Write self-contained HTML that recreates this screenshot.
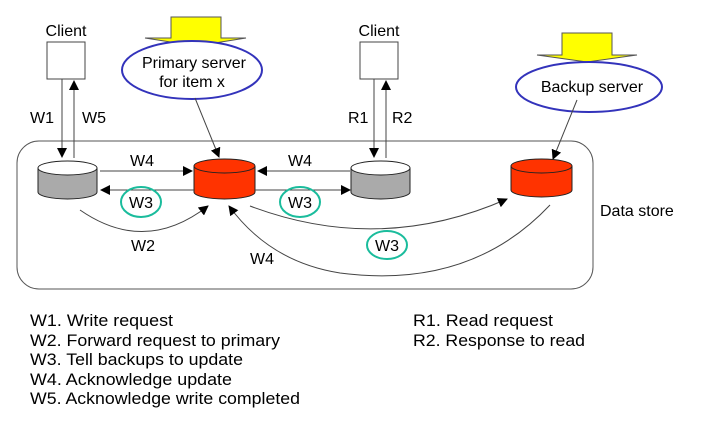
<!DOCTYPE html>
<html><head><meta charset="utf-8"><style>html,body{margin:0;padding:0;background:#fff}</style></head>
<body>
<svg width="709" height="417" viewBox="0 0 709 417" xmlns="http://www.w3.org/2000/svg" font-family="Liberation Sans, sans-serif" fill="#000">
<defs>
<marker id="a" markerWidth="10" markerHeight="10" refX="9" refY="5" orient="auto" markerUnits="userSpaceOnUse"><path d="M0,0 L10,5 L0,10 z" fill="#000"/></marker>
</defs>
<rect x="17" y="141" width="576" height="148" rx="22" fill="none" stroke="#555" stroke-width="1"/>
<text x="600" y="216" font-size="16">Data store</text>
<text x="66" y="36" font-size="16" text-anchor="middle">Client</text>
<rect x="47" y="42" width="38" height="37" fill="#fff" stroke="#444"/>
<text x="379" y="36" font-size="16" text-anchor="middle">Client</text>
<rect x="360" y="42" width="38" height="37" fill="#fff" stroke="#444"/>
<line x1="62" y1="79" x2="62" y2="157" stroke="#444" marker-end="url(#a)"/>
<line x1="74" y1="158" x2="74" y2="81" stroke="#444" marker-end="url(#a)"/>
<text x="30" y="123" font-size="16">W1</text><text x="82" y="123" font-size="16">W5</text>
<line x1="374" y1="79" x2="374" y2="157" stroke="#444" marker-end="url(#a)"/>
<line x1="386" y1="158" x2="386" y2="81" stroke="#444" marker-end="url(#a)"/>
<text x="348" y="123" font-size="16">R1</text><text x="392" y="123" font-size="16">R2</text>
<path d="M171,17 H221 V38 H246 L196,46 L145,38 H171 Z" fill="#ff0" stroke="#555"/>
<path d="M562,33 H612 V55 H637 L587,62 L537,55 H562 Z" fill="#ff0" stroke="#555"/>
<ellipse cx="192" cy="70" rx="70" ry="29" fill="#fff" stroke="#3333bb" stroke-width="2"/>
<text x="194" y="68" font-size="16" text-anchor="middle">Primary server</text>
<text x="192" y="87" font-size="16" text-anchor="middle">for item x</text>
<ellipse cx="589" cy="87" rx="73" ry="25" fill="#fff" stroke="#3333bb" stroke-width="2"/>
<text x="592" y="92" font-size="16" text-anchor="middle">Backup server</text>
<line x1="195" y1="98" x2="219" y2="157" stroke="#444" marker-end="url(#a)"/>
<line x1="577" y1="100" x2="553" y2="159" stroke="#444" marker-end="url(#a)"/>
<g stroke="#222">
<path d="M38,168 V192 A29.5,7 0 0 0 97,192 V168" fill="#aaa"/>
<ellipse cx="67.5" cy="168" rx="29.5" ry="7" fill="#fff"/>
<path d="M351,168 V192 A29.5,7 0 0 0 410,192 V168" fill="#aaa"/>
<ellipse cx="380.5" cy="168" rx="29.5" ry="7" fill="#fff"/>
<path d="M194,166 V192 A30.5,7 0 0 0 255,192 V166" fill="#ff3300"/>
<ellipse cx="224.5" cy="166" rx="30.5" ry="7" fill="#ff3300"/>
<path d="M511,166 V190 A30.5,7 0 0 0 572,190 V166" fill="#ff3300"/>
<ellipse cx="541.5" cy="166" rx="30.5" ry="7" fill="#ff3300"/>
</g>
<line x1="100" y1="171" x2="192" y2="171" stroke="#444" marker-end="url(#a)"/>
<line x1="194" y1="190" x2="101" y2="190" stroke="#444" marker-end="url(#a)"/>
<line x1="350" y1="171" x2="258" y2="171" stroke="#444" marker-end="url(#a)"/>
<line x1="255" y1="190" x2="350" y2="190" stroke="#444" marker-end="url(#a)"/>
<text x="130" y="166" font-size="16">W4</text>
<text x="288" y="166" font-size="16">W4</text>
<ellipse cx="141" cy="202" rx="20" ry="15" fill="none" stroke="#1abc9c" stroke-width="2"/>
<text x="141" y="208" font-size="16" text-anchor="middle">W3</text>
<ellipse cx="300" cy="202" rx="20" ry="15" fill="none" stroke="#1abc9c" stroke-width="2"/>
<text x="300" y="208" font-size="16" text-anchor="middle">W3</text>
<path d="M80,210 Q145,255 208,206" fill="none" stroke="#444" marker-end="url(#a)"/>
<text x="131" y="251" font-size="16">W2</text>
<path d="M250,206 Q380,255 507,199" fill="none" stroke="#444" marker-end="url(#a)"/>
<ellipse cx="387" cy="245" rx="20" ry="14" fill="none" stroke="#1abc9c" stroke-width="2"/>
<text x="387" y="251" font-size="16" text-anchor="middle">W3</text>
<path d="M550,205 Q470,290 340,273 Q270,262 229,206" fill="none" stroke="#444" marker-end="url(#a)"/>
<text x="250" y="264" font-size="16">W4</text>
<g font-size="16.5">
<text x="30" y="326" textLength="143" lengthAdjust="spacingAndGlyphs">W1. Write request</text>
<text x="30" y="346" textLength="250" lengthAdjust="spacingAndGlyphs">W2. Forward request to primary</text>
<text x="30" y="365" textLength="213" lengthAdjust="spacingAndGlyphs">W3. Tell backups to update</text>
<text x="30" y="385" textLength="202" lengthAdjust="spacingAndGlyphs">W4. Acknowledge update</text>
<text x="30" y="404" textLength="270" lengthAdjust="spacingAndGlyphs">W5. Acknowledge write completed</text>
<text x="413" y="326" textLength="140" lengthAdjust="spacingAndGlyphs">R1. Read request</text>
<text x="413" y="346" textLength="172" lengthAdjust="spacingAndGlyphs">R2. Response to read</text>
</g>
</svg>
</body></html>
